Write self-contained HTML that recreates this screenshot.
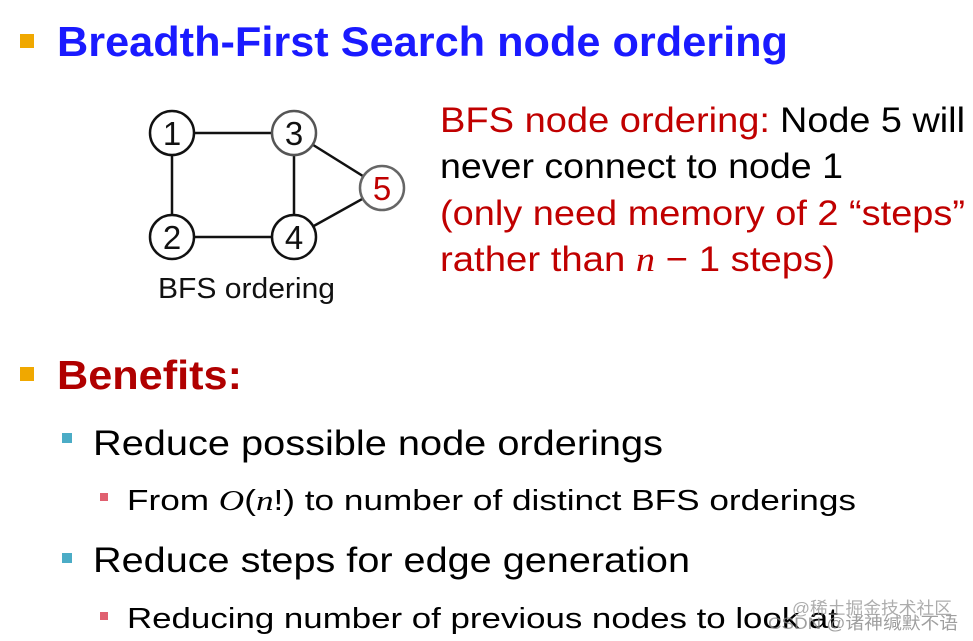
<!DOCTYPE html>
<html><head><style>
body{margin:0;background:#fff;}
svg{display:block}
text{font-family:"Liberation Sans","Noto Sans CJK SC",sans-serif;}
</style></head><body>
<svg width="973" height="641" viewBox="0 0 973 641" xmlns="http://www.w3.org/2000/svg">
<rect x="0" y="0" width="973" height="641" fill="#fff"/>
<rect x="20" y="34" width="14" height="14" fill="#f0a800"/>
<text x="57" y="56" font-size="42" font-weight="bold" fill="#1a1aff" textLength="731" lengthAdjust="spacingAndGlyphs">Breadth-First Search node ordering</text>

<g stroke="#111" stroke-width="2.5" fill="none">
<line x1="172" y1="133" x2="294" y2="133"/>
<line x1="172" y1="133" x2="172" y2="237"/>
<line x1="172" y1="237" x2="294" y2="237"/>
<line x1="294" y1="133" x2="294" y2="237"/>
<line x1="294" y1="133" x2="382" y2="188"/>
<line x1="294" y1="237" x2="382" y2="188"/>
</g>
<g stroke-width="2.5" fill="#fff">
<circle cx="172" cy="133" r="22" stroke="#111"/>
<circle cx="294" cy="133" r="22" stroke="#555"/>
<circle cx="172" cy="237" r="22" stroke="#111"/>
<circle cx="294" cy="237" r="22" stroke="#111"/>
<circle cx="382" cy="188" r="22" stroke="#666"/>
</g>
<g font-size="33" text-anchor="middle" fill="#111">
<text x="172" y="145">1</text>
<text x="294" y="145">3</text>
<text x="172" y="249">2</text>
<text x="294" y="249">4</text>
<text x="382" y="200" fill="#c00000">5</text>
</g>
<text x="158" y="298" font-size="29" fill="#111" textLength="177" lengthAdjust="spacingAndGlyphs">BFS ordering</text>

<text x="440" y="132" font-size="35" fill="#c00000" textLength="330" lengthAdjust="spacingAndGlyphs">BFS node ordering:</text>
<text x="780" y="132" font-size="35" fill="#000" textLength="185" lengthAdjust="spacingAndGlyphs">Node 5 will</text>
<text x="440" y="178" font-size="35" fill="#000" textLength="403" lengthAdjust="spacingAndGlyphs">never connect to node 1</text>
<text x="440" y="225" font-size="35" fill="#c00000" textLength="525" lengthAdjust="spacingAndGlyphs">(only need memory of 2 “steps”</text>
<text x="440" y="271" font-size="35" fill="#c00000" textLength="395" lengthAdjust="spacingAndGlyphs">rather than <tspan font-family="Liberation Serif" font-style="italic">n</tspan> − 1 steps)</text>

<rect x="20" y="367" width="14" height="14" fill="#f0a800"/>
<text x="57" y="389" font-size="41" font-weight="bold" fill="#b00000" textLength="185" lengthAdjust="spacingAndGlyphs">Benefits:</text>

<rect x="62" y="433" width="10" height="10" fill="#4bacc6"/>
<text x="93" y="455" font-size="35" fill="#000" textLength="570" lengthAdjust="spacingAndGlyphs">Reduce possible node orderings</text>
<rect x="100" y="493" width="8" height="8" fill="#e06070"/>
<text x="127" y="510" font-size="29" fill="#000" textLength="729" lengthAdjust="spacingAndGlyphs">From <tspan font-family="Liberation Serif" font-style="italic">O</tspan>(<tspan font-family="Liberation Serif" font-style="italic">n</tspan>!) to number of distinct BFS orderings</text>

<rect x="62" y="553" width="10" height="10" fill="#4bacc6"/>
<text x="93" y="572" font-size="35" fill="#000" textLength="597" lengthAdjust="spacingAndGlyphs">Reduce steps for edge generation</text>
<rect x="100" y="612" width="8" height="8" fill="#e06070"/>
<text x="127" y="628" font-size="29" fill="#000" textLength="711" lengthAdjust="spacingAndGlyphs">Reducing number of previous nodes to look at</text>

<text x="792" y="614" font-size="17" fill="#999" opacity="0.8" textLength="160" lengthAdjust="spacingAndGlyphs">@稀土掘金技术社区</text>
<text x="768" y="629" font-size="17" fill="#888" opacity="0.8" textLength="190" lengthAdjust="spacingAndGlyphs">CSDN @诸神缄默不语</text>
</svg>
</body></html>
